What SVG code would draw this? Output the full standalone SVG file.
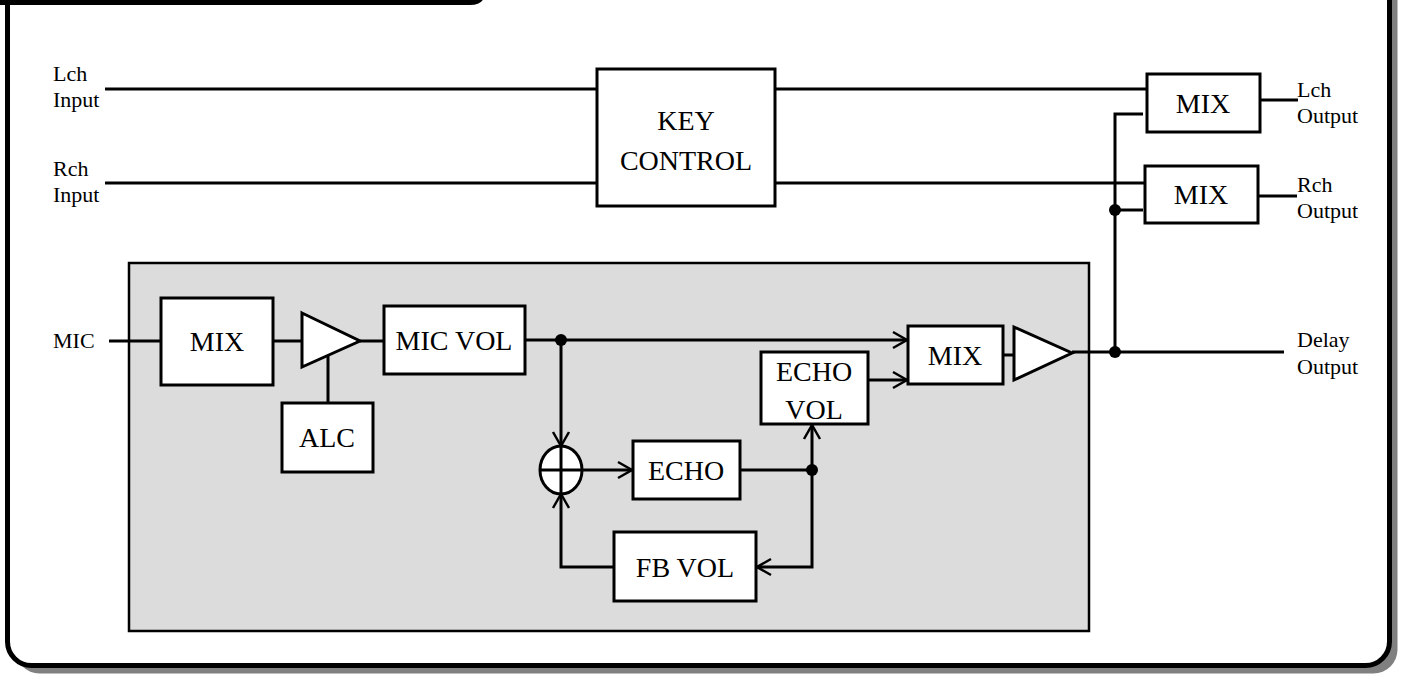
<svg xmlns="http://www.w3.org/2000/svg" width="1401" height="677" viewBox="0 0 1401 677">
<defs>
<style>
.box{fill:#fff;stroke:#000;stroke-width:3}
.w{fill:none;stroke:#000;stroke-width:3}
.bt{font-family:"Liberation Serif","Times New Roman",serif;font-size:28px;fill:#000;text-anchor:middle}
.lt{font-family:"Liberation Serif","Times New Roman",serif;font-size:22px;fill:#000}
.dot{fill:#000}
</style>
<marker id="arr" markerWidth="18" markerHeight="20" refX="15" refY="10" orient="auto" markerUnits="userSpaceOnUse">
<path d="M1,2 L15,10 L1,18" fill="none" stroke="#000" stroke-width="2.5"/>
</marker>
</defs>
<rect width="1401" height="677" fill="#fff"/>
<g id="frame">
<rect x="15.5" y="-32" width="1382" height="705.5" rx="24" fill="#808080"/>
<rect x="7.5" y="-40" width="1382" height="705.5" rx="24" fill="#fff" stroke="#000" stroke-width="5"/>
<path d="M0,-40 H485 V-8 Q485,5 470,5 H0 Z" fill="#000"/>
<rect x="129" y="263" width="960" height="368" fill="#dcdcdc" stroke="#000" stroke-width="2.5"/>
</g>
<g id="connectors">
<line class="w" x1="105" y1="89" x2="597" y2="89"/>
<line class="w" x1="105" y1="183" x2="597" y2="183"/>
<line class="w" x1="775" y1="89" x2="1147" y2="89"/>
<line class="w" x1="775" y1="183" x2="1145" y2="183"/>
<polyline class="w" points="1143,114 1115,114 1115,352"/>
<line class="w" x1="1115" y1="210" x2="1143" y2="210"/>
<line class="w" x1="1260" y1="100" x2="1298" y2="100"/>
<line class="w" x1="1258" y1="196" x2="1297" y2="196"/>
<line class="w" x1="1072" y1="352" x2="1284" y2="352"/>
<circle class="dot" cx="1115" cy="352" r="6"/>
<circle class="dot" cx="1115" cy="210" r="6"/>
<line class="w" x1="109" y1="341" x2="161" y2="341"/>
<line class="w" x1="273" y1="341" x2="302" y2="341"/>
<line class="w" x1="360" y1="341" x2="384" y2="341"/>
<line class="w" x1="328" y1="354" x2="328" y2="403"/>
<line class="w" x1="525" y1="340" x2="907" y2="340" marker-end="url(#arr)"/>
<circle class="dot" cx="561" cy="340" r="6"/>
<line class="w" x1="561" y1="340" x2="561" y2="446" marker-end="url(#arr)"/>
<line class="w" x1="582" y1="470" x2="632" y2="470" marker-end="url(#arr)"/>
<line class="w" x1="740" y1="470" x2="812" y2="470"/>
<circle class="dot" cx="812" cy="470" r="6"/>
<line class="w" x1="812" y1="470" x2="812" y2="425" marker-end="url(#arr)"/>
<polyline class="w" points="812,470 812,567 757,567" marker-end="url(#arr)"/>
<polyline class="w" points="614,567 561,567 561,494" marker-end="url(#arr)"/>
<line class="w" x1="868" y1="380" x2="907" y2="380" marker-end="url(#arr)"/>
<line class="w" x1="1003" y1="355" x2="1014" y2="355"/>
</g>
<g id="labels">
<text class="lt" x="53" y="81">Lch</text>
<text class="lt" x="53" y="107">Input</text>
<text class="lt" x="53" y="176">Rch</text>
<text class="lt" x="53" y="202">Input</text>
<text class="lt" x="53" y="348">MIC</text>
<text class="lt" x="1297" y="97">Lch</text>
<text class="lt" x="1297" y="123">Output</text>
<text class="lt" x="1297" y="192">Rch</text>
<text class="lt" x="1297" y="218">Output</text>
<text class="lt" x="1297" y="347">Delay</text>
<text class="lt" x="1297" y="374">Output</text>
</g>
<g id="key-control">
<rect class="box" x="597" y="69" width="178" height="137"/>
<text class="bt" x="686" y="130">KEY</text>
<text class="bt" x="686" y="170">CONTROL</text>
</g>
<g id="mix-l">
<rect class="box" x="1147" y="74" width="113" height="58"/>
<text class="bt" x="1203" y="113">MIX</text>
</g>
<g id="mix-r">
<rect class="box" x="1145" y="166" width="113" height="57"/>
<text class="bt" x="1201" y="204">MIX</text>
</g>
<g id="mix-mic">
<rect class="box" x="161" y="298" width="112" height="87"/>
<text class="bt" x="217" y="351">MIX</text>
</g>
<g id="amp-mic">
<polygon class="box" points="302,313 360,341 302,367"/>
</g>
<g id="alc">
<rect class="box" x="282" y="403" width="91" height="69"/>
<text class="bt" x="327" y="447">ALC</text>
</g>
<g id="mic-vol">
<rect class="box" x="384" y="306" width="141" height="68"/>
<text class="bt" x="454" y="350">MIC VOL</text>
</g>
<g id="sum">
<ellipse class="box" cx="561" cy="470" rx="21" ry="24"/>
<line class="w" x1="540" y1="470" x2="582" y2="470"/>
<line class="w" x1="561" y1="446" x2="561" y2="494"/>
</g>
<g id="echo">
<rect class="box" x="633" y="441" width="107" height="58"/>
<text class="bt" x="686" y="480">ECHO</text>
</g>
<g id="echo-vol">
<rect class="box" x="761" y="352" width="107" height="72"/>
<text class="bt" x="814" y="381">ECHO</text>
<text class="bt" x="814" y="419">VOL</text>
</g>
<g id="fb-vol">
<rect class="box" x="614" y="532" width="142" height="69"/>
<text class="bt" x="685" y="577">FB VOL</text>
</g>
<g id="mix-delay">
<rect class="box" x="908" y="326" width="95" height="58"/>
<text class="bt" x="955" y="365">MIX</text>
</g>
<g id="amp-out">
<polygon class="box" points="1014,327 1072,353 1014,380"/>
</g>
</svg>
